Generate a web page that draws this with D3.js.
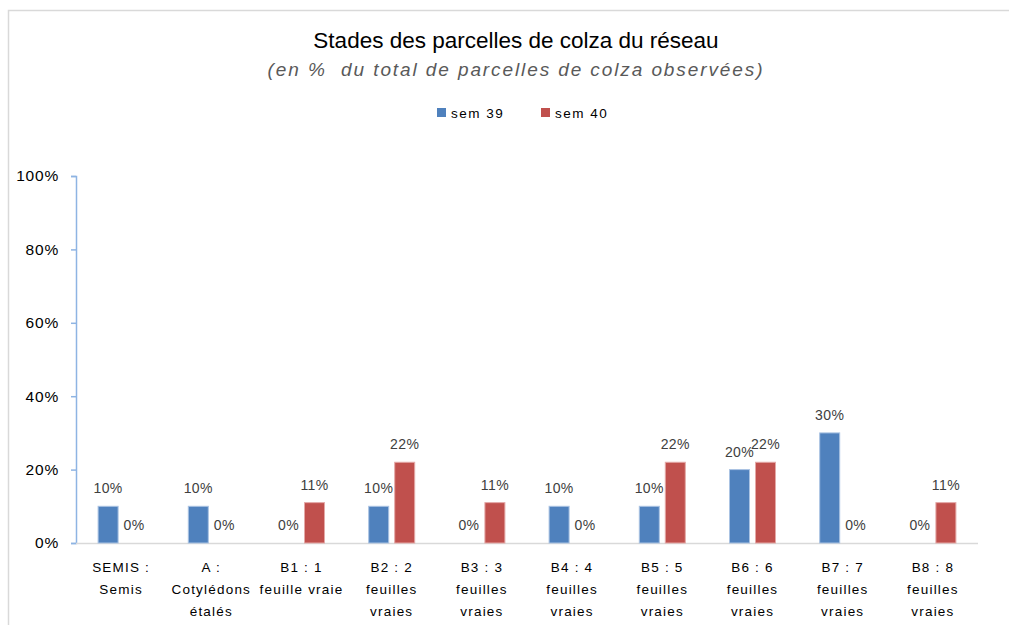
<!DOCTYPE html>
<html>
<head>
<meta charset="utf-8">
<script src="https://cdn.jsdelivr.net/npm/d3@7"></script>
<style>
  body { margin: 0; background: #fff; }
  text { font-family: "Liberation Sans", Arial, sans-serif; }
</style>
</head>
<body>
<div id="chart"></div>
<script>
// categories (multi-line labels)
const stades = [
  ["SEMIS :", "Semis"],
  ["A :", "Cotylédons", "étalés"],
  ["B1 : 1", "feuille vraie"],
  ["B2 : 2", "feuilles", "vraies"],
  ["B3 : 3", "feuilles", "vraies"],
  ["B4 : 4", "feuilles", "vraies"],
  ["B5 : 5", "feuilles", "vraies"],
  ["B6 : 6", "feuilles", "vraies"],
  ["B7 : 7", "feuilles", "vraies"],
  ["B8 : 8", "feuilles", "vraies"]
];
const sem39 = [10, 10, 0, 10, 0, 10, 10, 20, 30, 0];
const sem40 = [0, 0, 11, 22, 11, 0, 22, 22, 0, 11];
const seriesNames = ["sem 39", "sem 40"];
const yTicks = [0, 20, 40, 60, 80, 100];

const width = 1009, height = 625;
const colors = ["#4f81bd", "#c0504d"];

const svg = d3.select("#chart").append("svg")
  .attr("width", width)
  .attr("height", height);

// frame
svg.append("rect")
  .attr("x", 8.5).attr("y", 10.5)
  .attr("width", 1010).attr("height", 640)
  .attr("fill", "none")
  .attr("stroke", "#d9d9d9")
  .attr("stroke-width", 1.5);

// title
svg.append("text")
  .attr("x", 516).attr("y", 48)
  .attr("text-anchor", "middle")
  .attr("font-size", 22.5)
  .attr("fill", "#000")
  .text("Stades des parcelles de colza du réseau");
svg.append("text")
  .attr("x", 516).attr("y", 76)
  .attr("text-anchor", "middle")
  .attr("font-size", 19)
  .attr("letter-spacing", 1.9)
  .attr("font-style", "italic")
  .attr("fill", "#595959")
  .style("white-space", "pre")
  .text("(en %  du total de parcelles de colza observées)");

// legend
const legend = svg.append("g");
seriesNames.forEach((name, i) => {
  const lx = 437 + i * 104;
  legend.append("rect")
    .attr("x", lx).attr("y", 108)
    .attr("width", 9).attr("height", 9)
    .attr("fill", colors[i]);
  legend.append("text")
    .attr("x", lx + 14).attr("y", 117.5)
    .attr("font-size", 13.5)
    .attr("letter-spacing", 1.5)
    .attr("fill", "#000")
    .text(name);
});

// scales
const x = d3.scaleBand()
  .domain(d3.range(stades.length))
  .range([76, 978]);
const y = d3.scaleLinear().domain([0, 100]).range([543, 176]);
const barW = 20, gap = 6;

// y axis
const yAxis = svg.append("g")
  .attr("transform", "translate(76,0)")
  .call(d3.axisLeft(y).tickValues(yTicks).tickFormat(d => d + "%").tickSize(5).tickPadding(12));
yAxis.select(".domain").attr("stroke", "#8eb4e3").attr("stroke-width", 1.5);
yAxis.selectAll(".tick line").attr("stroke", "#8eb4e3").attr("stroke-width", 1.5);
yAxis.selectAll(".tick text")
  .attr("font-size", 15.5)
  .attr("letter-spacing", 0.8)
  .attr("fill", "#000")
  .attr("font-family", "'Liberation Sans', Arial, sans-serif");

// x axis line
svg.append("line")
  .attr("x1", 76).attr("x2", 978)
  .attr("y1", y(0) + 0.5).attr("y2", y(0) + 0.5)
  .attr("stroke", "#d9d9d9")
  .attr("stroke-width", 1.5);

// bars
const series = [sem39, sem40];
series.forEach((vals, s) => {
  const g = svg.append("g");
  const cx = i => x(i) + x.bandwidth() / 2 + (s === 0 ? -(gap / 2 + barW / 2) : (gap / 2 + barW / 2));
  g.selectAll("rect")
    .data(vals)
    .join("rect")
    .attr("x", (d, i) => cx(i) - barW / 2)
    .attr("y", d => y(d))
    .attr("width", barW)
    .attr("height", d => y(0) - y(d))
    .attr("fill", colors[s])
    .attr("stroke", d => d > 0 ? (s === 0 ? "#aac3e3" : "#e4a9a7") : "none")
    .attr("stroke-width", 1);
  g.selectAll("text")
    .data(vals)
    .join("text")
    .attr("x", (d, i) => cx(i))
    .attr("y", d => y(d) - 13)
    .attr("text-anchor", "middle")
    .attr("font-size", 14)
    .attr("letter-spacing", 0.4)
    .attr("fill", "#404040")
    .text(d => d + "%");
});

// category labels
const cat = svg.append("g");
stades.forEach((lines, i) => {
  const t = cat.append("text")
    .attr("x", x(i) + x.bandwidth() / 2)
    .attr("y", 572)
    .attr("text-anchor", "middle")
    .attr("font-size", 13.5)
    .attr("letter-spacing", 1.2)
    .attr("fill", "#000");
  lines.forEach((l, k) => {
    t.append("tspan")
      .attr("x", x(i) + x.bandwidth() / 2)
      .attr("dy", k === 0 ? 0 : 22)
      .text(l);
  });
});
</script>
</body>
</html>
